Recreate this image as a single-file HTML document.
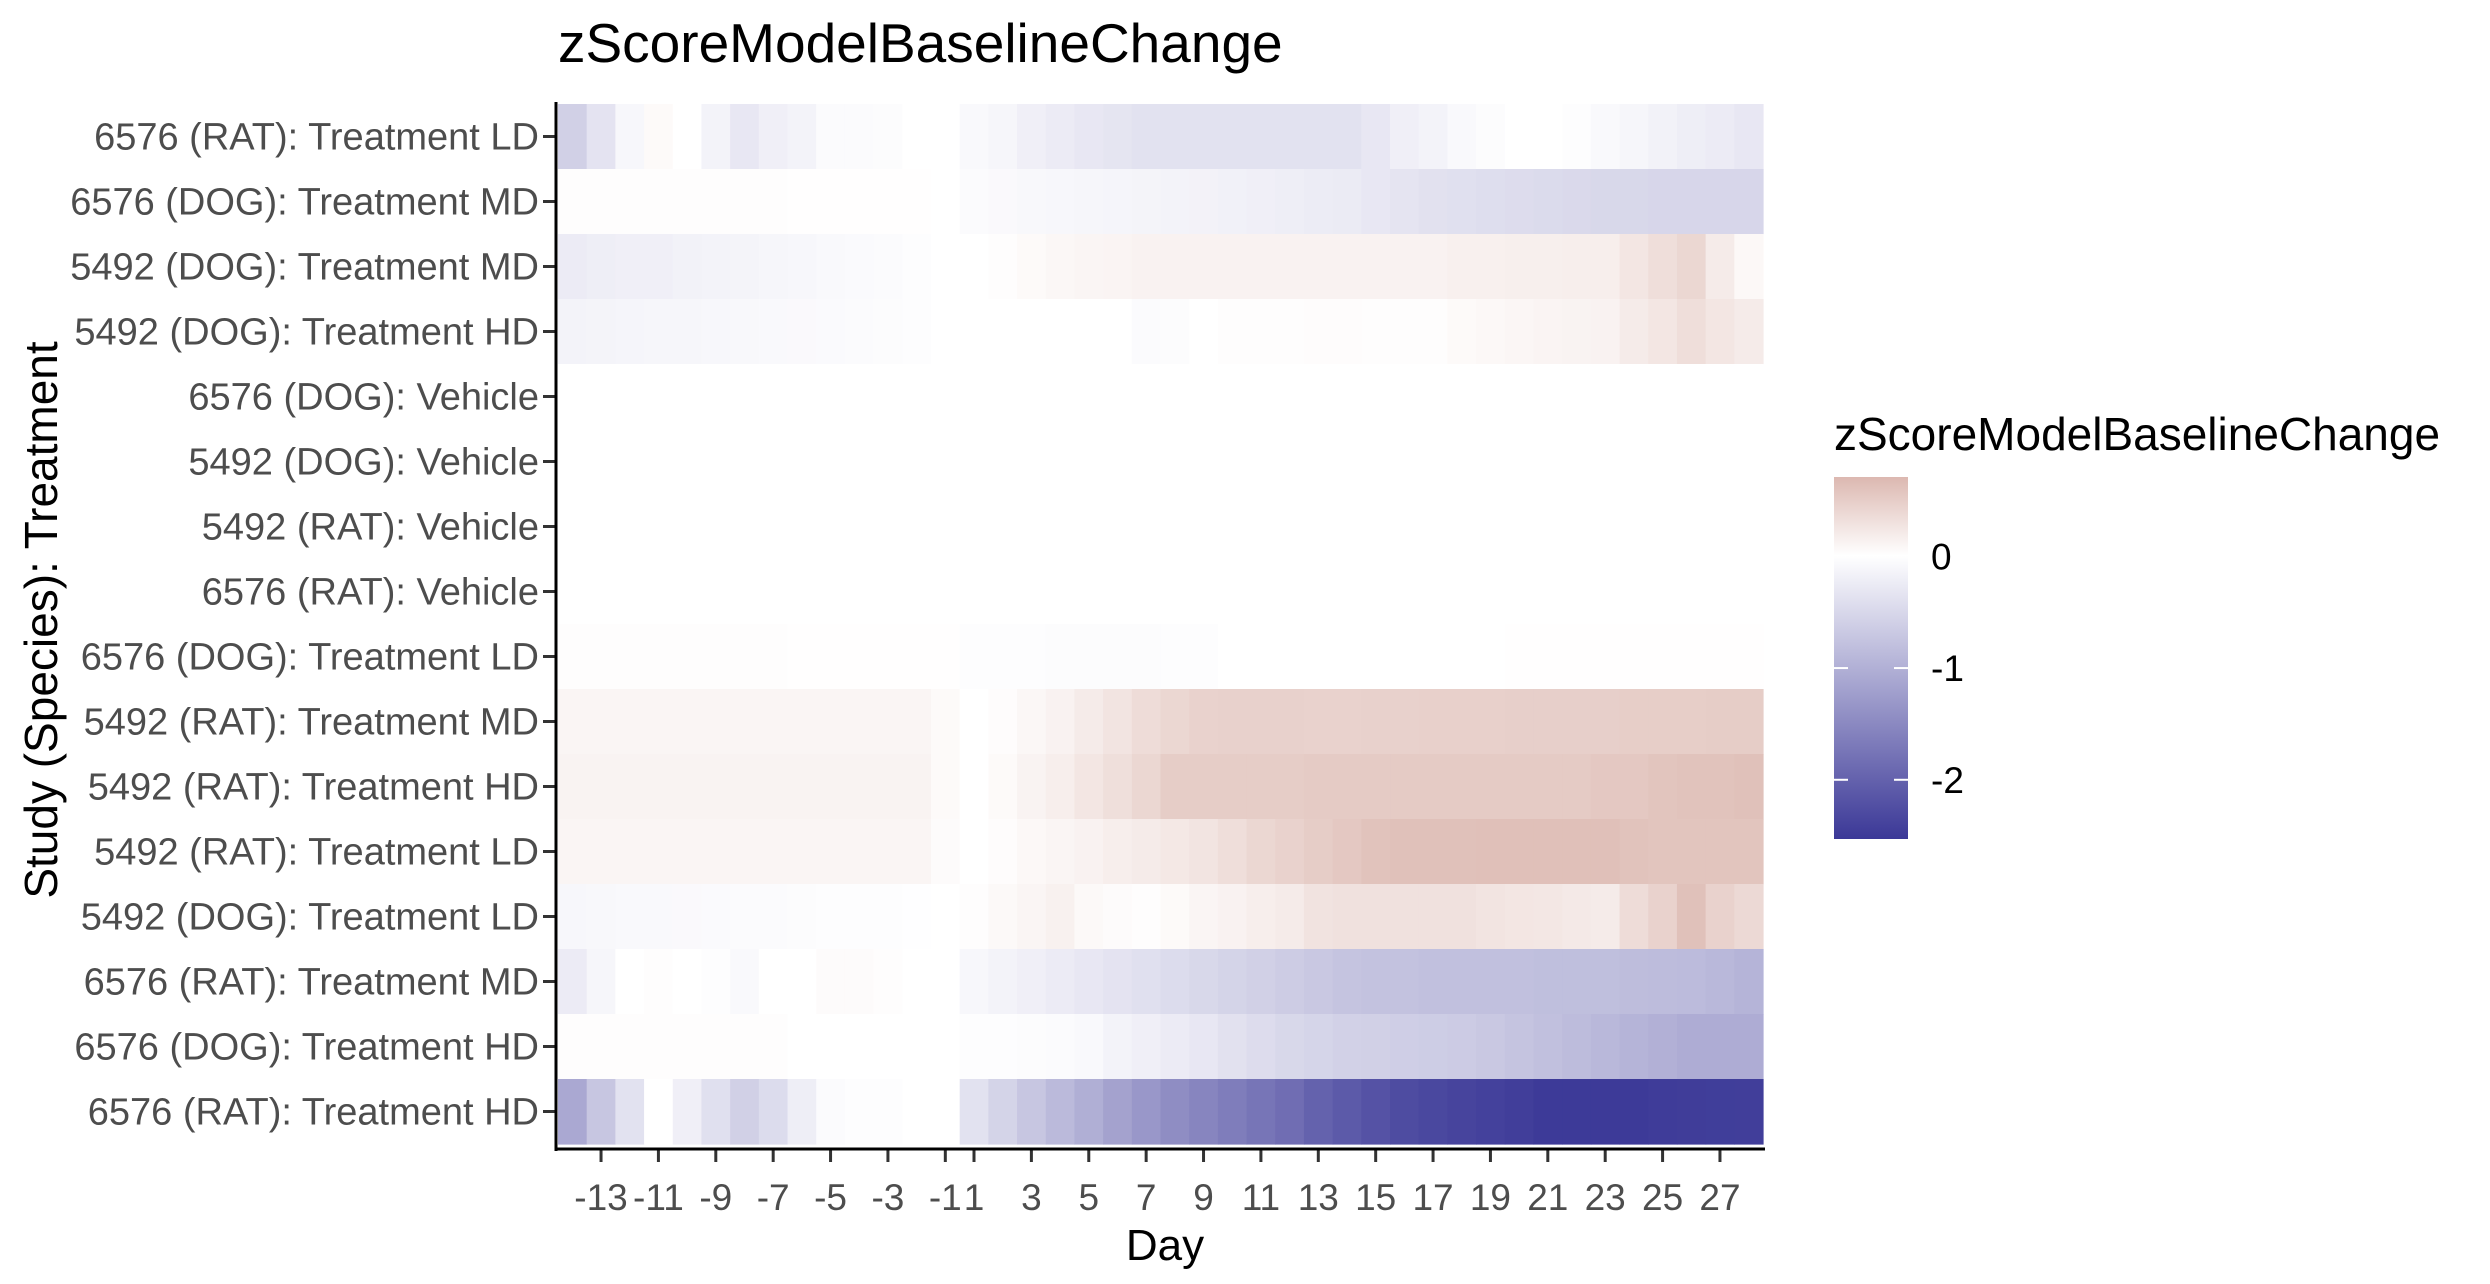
<!DOCTYPE html>
<html><head><meta charset="utf-8"><style>
html,body{margin:0;padding:0;background:#fff;}
svg{display:block;font-family:"Liberation Sans",Arial,sans-serif;}
</style></head><body>
<svg id="chart" width="2490" height="1284" viewBox="0 0 2490 1284" xmlns="http://www.w3.org/2000/svg">
<defs>
<linearGradient id="legendGrad" x1="0" y1="0" x2="0" y2="1">
<stop offset="0" stop-color="#dcb8b0"/>
<stop offset="0.218" stop-color="#ffffff"/>
<stop offset="1" stop-color="#3b3897"/>
</linearGradient>
</defs>
<text x="558" y="62" font-size="55" fill="#000">zScoreModelBaselineChange</text>
<g id="tiles"></g>
<g id="yaxis"></g>
<g id="xaxis"></g>
<line x1="556" y1="102" x2="556" y2="1151" stroke="#000" stroke-width="3"/>
<line x1="555" y1="1149" x2="1765" y2="1149" stroke="#000" stroke-width="3"/>
<text transform="translate(57,620) rotate(-90)" text-anchor="middle" font-size="46" fill="#000">Study (Species): Treatment</text>
<text x="1165" y="1260" text-anchor="middle" font-size="44" fill="#000">Day</text>
<g>
<text x="1834" y="450" font-size="46" fill="#000">zScoreModelBaselineChange</text>
<rect x="1834" y="477" width="74" height="362" fill="url(#legendGrad)"/>
<g id="legendTicks"></g>
</g>
</svg>
<script>
const rowLabels = ["6576 (RAT): Treatment LD","6576 (DOG): Treatment MD","5492 (DOG): Treatment MD","5492 (DOG): Treatment HD","6576 (DOG): Vehicle","5492 (DOG): Vehicle","5492 (RAT): Vehicle","6576 (RAT): Vehicle","6576 (DOG): Treatment LD","5492 (RAT): Treatment MD","5492 (RAT): Treatment HD","5492 (RAT): Treatment LD","5492 (DOG): Treatment LD","6576 (RAT): Treatment MD","6576 (DOG): Treatment HD","6576 (RAT): Treatment HD"];
const days = [-14,-13,-12,-11,-10,-9,-8,-7,-6,-5,-4,-3,-2,-1,1,2,3,4,5,6,7,8,9,10,11,12,13,14,15,16,17,18,19,20,21,22,23,24,25,26,27,28];
const xTickLabels = [-13,-11,-9,-7,-5,-3,-1,1,3,5,7,9,11,13,15,17,19,21,23,25,27];
const legendTickValues = [0,-1,-2];
const r1 = [-0.6,-0.35,-0.1,0.05,0,-0.15,-0.3,-0.2,-0.15,-0.05,-0.05,-0.04,0,0,-0.08,-0.12,-0.2,-0.25,-0.3,-0.33,-0.37,-0.37,-0.37,-0.37,-0.37,-0.37,-0.37,-0.37,-0.3,-0.2,-0.15,-0.08,-0.04,0,0,-0.03,-0.08,-0.12,-0.17,-0.22,-0.25,-0.3];
const r2 = [0.02,0.02,0.02,0.02,0.02,0.02,0.02,0.02,0.01,0.01,0.01,0.01,0.01,0,-0.05,-0.07,-0.09,-0.1,-0.12,-0.13,-0.14,-0.15,-0.16,-0.18,-0.2,-0.22,-0.24,-0.26,-0.3,-0.34,-0.38,-0.4,-0.42,-0.44,-0.46,-0.48,-0.5,-0.5,-0.52,-0.52,-0.52,-0.52];
const r3 = [-0.25,-0.22,-0.2,-0.2,-0.17,-0.15,-0.14,-0.12,-0.1,-0.08,-0.06,-0.05,-0.03,0,0,0.02,0.05,0.08,0.1,0.11,0.13,0.13,0.13,0.13,0.13,0.13,0.13,0.13,0.13,0.13,0.13,0.15,0.15,0.16,0.16,0.17,0.17,0.25,0.33,0.4,0.2,0.07];
const r4 = [-0.15,-0.14,-0.13,-0.12,-0.12,-0.1,-0.09,-0.08,-0.07,-0.06,-0.05,-0.04,-0.03,0,0,0,0,0,0,0,-0.05,-0.04,0,0.02,0.02,0.02,0.03,0.03,0.02,0.02,0.02,0.05,0.07,0.09,0.11,0.12,0.13,0.2,0.25,0.33,0.25,0.2];
const r5 = [0,0,0,0,0,0,0,0,0,0,0,0,0,0,0,0,0,0,0,0,0,0,0,0,0,0,0,0,0,0,0,0,0,0,0,0,0,0,0,0,0,0];
const r6 = [0,0,0,0,0,0,0,0,0,0,0,0,0,0,0,0,0,0,0,0,0,0,0,0,0,0,0,0,0,0,0,0,0,0,0,0,0,0,0,0,0,0];
const r7 = [0,0,0,0,0,0,0,0,0,0,0,0,0,0,0,0,0,0,0,0,0,0,0,0,0,0,0,0,0,0,0,0,0,0,0,0,0,0,0,0,0,0];
const r8 = [0,0,0,0,0,0,0,0,0,0,0,0,0,0,0,0,0,0,0,0,0,0,0,0,0,0,0,0,0,0,0,0,0,0,0,0,0,0,0,0,0,0];
const r9 = [0.02,0.02,0.02,0.02,0.02,0.02,0.02,0.02,0.01,0.01,0.01,0.01,0.01,0.01,-0.02,-0.03,-0.03,-0.04,-0.04,-0.04,-0.04,-0.02,-0.02,0,0,0,0,0,0,0,0,0,0,0.01,0.01,0.01,0.01,0.01,0.01,0.01,0.01,0.01];
const r10 = [0.1,0.1,0.1,0.1,0.1,0.1,0.1,0.1,0.1,0.1,0.1,0.1,0.1,0.05,0,0.03,0.08,0.13,0.2,0.27,0.35,0.4,0.45,0.46,0.46,0.46,0.45,0.45,0.46,0.46,0.47,0.47,0.47,0.48,0.48,0.48,0.48,0.49,0.49,0.49,0.5,0.5];
const r11 = [0.12,0.12,0.12,0.12,0.12,0.12,0.12,0.12,0.12,0.12,0.12,0.12,0.12,0.05,0,0.05,0.12,0.17,0.25,0.32,0.4,0.5,0.5,0.5,0.5,0.5,0.52,0.52,0.52,0.52,0.52,0.52,0.52,0.52,0.52,0.52,0.55,0.55,0.58,0.6,0.6,0.62];
const r12 = [0.1,0.1,0.1,0.1,0.1,0.1,0.1,0.1,0.1,0.1,0.1,0.1,0.1,0.04,0,0.03,0.07,0.1,0.13,0.17,0.2,0.23,0.27,0.33,0.4,0.45,0.5,0.55,0.6,0.62,0.62,0.62,0.63,0.63,0.63,0.63,0.63,0.6,0.58,0.58,0.58,0.58];
const r13 = [-0.1,-0.09,-0.08,-0.08,-0.07,-0.06,-0.05,-0.05,-0.04,-0.03,-0.02,-0.02,-0.01,0,0.02,0.06,0.1,0.14,0.06,0.04,0.02,0.05,0.1,0.13,0.17,0.2,0.28,0.3,0.3,0.3,0.3,0.3,0.27,0.25,0.24,0.22,0.2,0.35,0.45,0.62,0.45,0.38];
const r14 = [-0.25,-0.12,0,0.02,0,-0.03,-0.08,0,0,0.04,0.04,0.02,0,0,-0.1,-0.15,-0.2,-0.25,-0.3,-0.35,-0.4,-0.45,-0.5,-0.55,-0.6,-0.65,-0.7,-0.75,-0.78,-0.78,-0.8,-0.8,-0.8,-0.8,-0.82,-0.82,-0.82,-0.84,-0.85,-0.86,-0.9,-0.95];
const r15 = [0.02,0.02,0.02,0.02,0.02,0.02,0.02,0.02,0,0,0,0,0,0,-0.02,-0.03,-0.04,-0.05,-0.08,-0.15,-0.2,-0.25,-0.3,-0.38,-0.44,-0.5,-0.54,-0.58,-0.6,-0.62,-0.64,-0.66,-0.7,-0.75,-0.8,-0.85,-0.9,-0.95,-1.0,-1.05,-1.05,-1.05];
const r16 = [-1.1,-0.72,-0.37,0,-0.2,-0.4,-0.6,-0.45,-0.22,-0.05,-0.03,-0.03,0,0,-0.37,-0.55,-0.72,-0.88,-1.02,-1.18,-1.32,-1.45,-1.55,-1.65,-1.75,-1.85,-2.0,-2.1,-2.2,-2.28,-2.33,-2.38,-2.42,-2.45,-2.5,-2.5,-2.5,-2.5,-2.48,-2.47,-2.46,-2.45];
const rows = [r1,r2,r3,r4,r5,r6,r7,r8,r9,r10,r11,r12,r13,r14,r15,r16];

const NS = "http://www.w3.org/2000/svg";
const plotL = 558, plotR = 1763, plotT = 104, plotB = 1144;
const colW = (plotR - plotL) / days.length;
const rowH = (plotB - plotT) / rowLabels.length;
const vMax = 0.71, vMin = -2.53;
const legTop = 477, legBot = 839;
function xCenter(day){ return plotL + (days.indexOf(day) + 0.5) * colW; }
function xLeft(i){ return plotL + i * colW; }
function yTop(r){ return plotT + r * rowH; }
function legY(v){ return legTop + (vMax - v) / (vMax - vMin) * (legBot - legTop); }
function lerp(a,b,t){ return Math.round(a + (b - a) * t); }
function color(v){
  let c;
  if (v >= 0){ const t = Math.min(1, v / vMax); c = [lerp(255,220,t), lerp(255,184,t), lerp(255,176,t)]; }
  else { const t = Math.min(1, v / vMin); c = [lerp(255,59,t), lerp(255,56,t), lerp(255,151,t)]; }
  return "rgb(" + c.join(",") + ")";
}
function mk(tag, attrs){ const e = document.createElementNS(NS, tag); for (const k in attrs) e.setAttribute(k, attrs[k]); return e; }

const tiles = document.getElementById("tiles");
rows.forEach((vals, r) => {
  vals.forEach((v, i) => {
    const rect = mk("rect", {x: xLeft(i).toFixed(2), y: yTop(r).toFixed(2), width: (colW + 0.6).toFixed(2), height: (rowH + 0.6).toFixed(2), fill: color(v)});
    
    
    tiles.appendChild(rect);
  });
});

const yaxis = document.getElementById("yaxis");
rowLabels.forEach((lab, r) => {
  const cy = yTop(r) + rowH / 2;
  const t = mk("text", {x: 539, y: cy + 13, "text-anchor": "end", "font-size": 38, fill: "#4d4d4d"});
  t.textContent = lab;
  
  
  yaxis.appendChild(t);
  const tk = mk("line", {x1: 543, y1: cy, x2: 556, y2: cy, stroke: "#333", "stroke-width": 3});
  
  
  yaxis.appendChild(tk);
});

const xaxis = document.getElementById("xaxis");
xTickLabels.forEach(d => {
  const cx = xCenter(d);
  const tk = mk("line", {x1: cx, y1: 1150, x2: cx, y2: 1162, stroke: "#333", "stroke-width": 3});
  
  
  xaxis.appendChild(tk);
  const t = mk("text", {x: cx, y: 1210, "text-anchor": "middle", "font-size": 37, fill: "#4d4d4d"});
  t.textContent = d;
  
  
  xaxis.appendChild(t);
});

const lt = document.getElementById("legendTicks");
legendTickValues.forEach(v => {
  const y = legY(v);
  if (v !== 0){
    const a = mk("line", {x1: 1834, y1: y, x2: 1848, y2: y, stroke: "#fff", "stroke-width": 2});
    
    
    lt.appendChild(a);
    const b = mk("line", {x1: 1894, y1: y, x2: 1908, y2: y, stroke: "#fff", "stroke-width": 2});
    
    
    lt.appendChild(b);
  }
  const t = mk("text", {x: 1931, y: y + 13, "font-size": 37, fill: "#000"});
  t.textContent = v;
  
  
  lt.appendChild(t);
});
</script>
</body></html>
